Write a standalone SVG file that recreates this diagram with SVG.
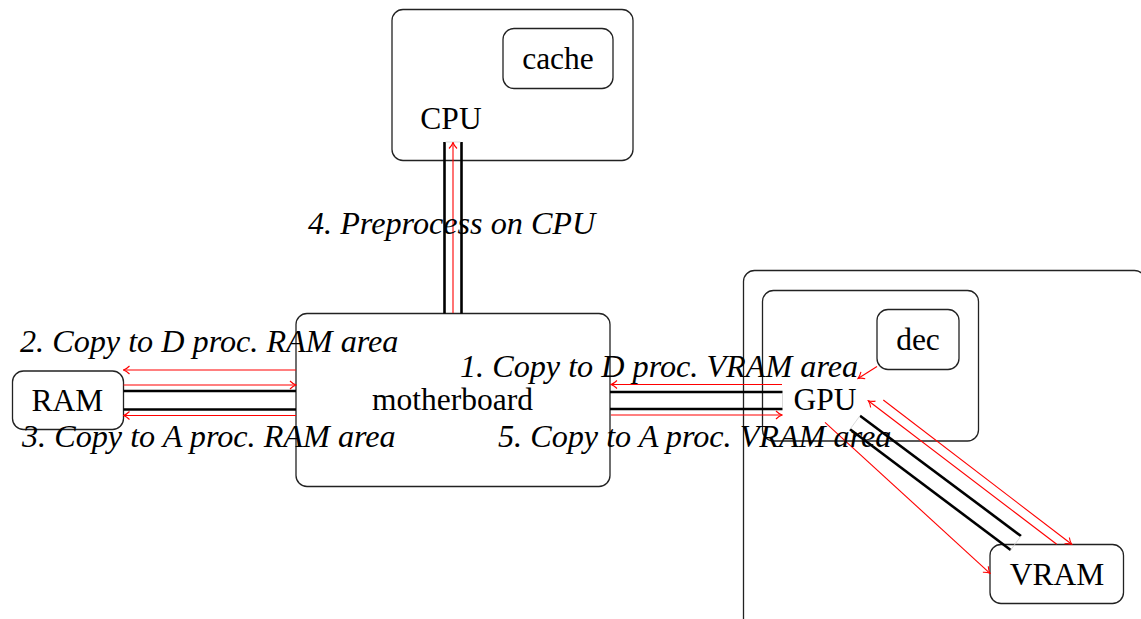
<svg xmlns="http://www.w3.org/2000/svg" width="1141" height="619" viewBox="0 0 1141 619">
  <style>
    .box { fill: none; stroke: #222; stroke-width: 1.3; }
    .lbl { font-family: "Liberation Serif", "Times New Roman", serif; font-size: 31.5px; fill: #000; text-anchor: middle; }
    .step { font-family: "Liberation Serif", "Times New Roman", serif; font-size: 32.2px; font-style: italic; fill: #000; }
    .bus { stroke: #000; stroke-width: 2.6; fill: none; }
    .cap { stroke: #cfcfcf; stroke-width: 0.8; fill: none; }
    .flow { stroke: #ff0000; stroke-width: 1.1; fill: none; marker-end: url(#tip); }
  </style>
  <defs>
    <marker id="tip" markerWidth="10" markerHeight="10" refX="9" refY="5" orient="auto" markerUnits="userSpaceOnUse">
      <path d="M 3 1 Q 6 4 9 5 Q 6 6 3 9" fill="none" stroke="#ff0000" stroke-width="1.1"/>
    </marker>
  </defs>

  <rect width="1141" height="619" fill="#fff"/>

  <!-- CPU with its cache -->
  <g id="cpu">
    <rect class="box" x="392" y="9.5" width="241" height="151" rx="11"/>
    <text class="lbl" x="451" y="129">CPU</text>
  </g>
  <g id="cache">
    <rect class="box" x="503" y="28.5" width="110" height="60" rx="11"/>
    <text class="lbl" x="558" y="69">cache</text>
  </g>

  <!-- motherboard -->
  <g id="motherboard">
    <rect class="box" x="296" y="313.5" width="314" height="173" rx="11"/>
    <text class="lbl" x="452.5" y="410">motherboard</text>
  </g>

  <!-- system RAM -->
  <g id="ram">
    <rect class="box" x="12.5" y="371" width="111" height="58.5" rx="11"/>
    <text class="lbl" x="67.5" y="411">RAM</text>
  </g>

  <!-- graphics card: outer board, GPU die, decoder, VRAM -->
  <g id="card">
    <rect class="box" x="743.5" y="270.5" width="402" height="360" rx="11"/>
  </g>
  <g id="gpu">
    <rect class="box" x="762.5" y="290.5" width="216" height="150.5" rx="11"/>
    <text class="lbl" x="825" y="410">GPU</text>
  </g>
  <g id="dec">
    <rect class="box" x="877" y="309.5" width="82" height="60" rx="11"/>
    <text class="lbl" x="918" y="350">dec</text>
  </g>
  <g id="vram">
    <rect class="box" x="990" y="544.5" width="133.5" height="59" rx="11"/>
    <text class="lbl" x="1057" y="585">VRAM</text>
  </g>

  <!-- buses and data flows -->
  <g id="connectors">
    <!-- CPU <-> motherboard -->
    <line class="bus" x1="444.5" y1="142" x2="444.5" y2="313.5"/>
    <line class="bus" x1="461.5" y1="142" x2="461.5" y2="313.5"/>
    <line class="cap" x1="445.5" y1="142" x2="460.5" y2="142"/>
    <line class="flow" x1="453" y1="313" x2="453" y2="142.5"/>

    <!-- RAM <-> motherboard -->
    <line class="bus" x1="123.5" y1="391" x2="296" y2="391"/>
    <line class="bus" x1="123.5" y1="409.5" x2="296" y2="409.5"/>
    <line class="flow" x1="296" y1="370" x2="123.5" y2="370"/>
    <line class="flow" x1="123.5" y1="385" x2="296" y2="385"/>
    <line class="flow" x1="296" y1="415.5" x2="123.5" y2="415.5"/>

    <!-- motherboard <-> GPU -->
    <line class="bus" x1="610" y1="392" x2="782.5" y2="392"/>
    <line class="bus" x1="610" y1="409" x2="782.5" y2="409"/>
    <line class="cap" x1="782.5" y1="393" x2="782.5" y2="408"/>
    <line class="flow" x1="782" y1="384.5" x2="611" y2="384.5"/>
    <line class="flow" x1="611" y1="415" x2="782" y2="415"/>

    <!-- decoder -> GPU -->
    <line class="flow" x1="877" y1="366.5" x2="858" y2="378.5"/>

    <!-- GPU <-> VRAM -->
    <line class="bus" x1="860" y1="415.7" x2="1021" y2="536"/>
    <line class="bus" x1="850" y1="429.3" x2="1010.7" y2="550"/>
    <line class="cap" x1="860" y1="415.7" x2="850" y2="429.3"/>
    <line class="cap" x1="1021" y1="536" x2="1010.7" y2="550"/>
    <line class="flow" x1="825" y1="422.3" x2="990" y2="573.3"/>
    <line class="flow" x1="1056.7" y1="544.3" x2="868.3" y2="400.7"/>
    <line class="flow" x1="883.3" y1="400" x2="1071.7" y2="544.3"/>
  </g>

  <!-- step labels -->
  <g id="steps">
    <text class="step" x="308" y="234">4. Preprocess on CPU</text>
    <text class="step" x="20" y="352">2. Copy to D proc. RAM area</text>
    <text class="step" x="22" y="447">3. Copy to A proc. RAM area</text>
    <text class="step" x="460" y="377">1. Copy to D proc. VRAM area</text>
    <text class="step" x="498" y="447">5. Copy to A proc. VRAM area</text>
  </g>
</svg>
